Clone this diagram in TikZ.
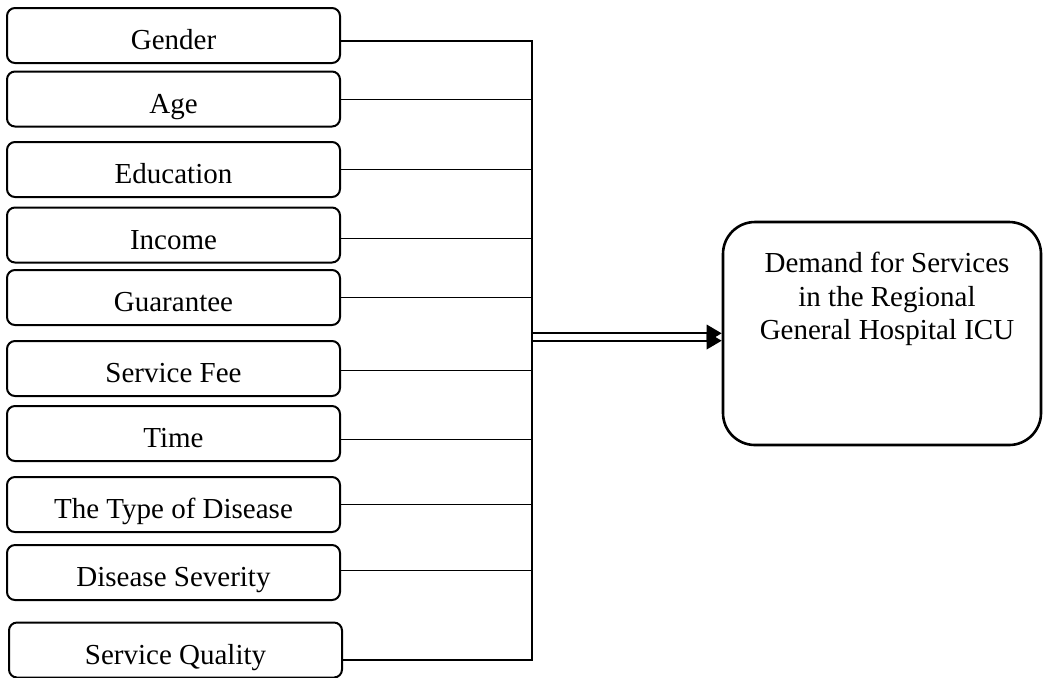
\documentclass[tikz,border=0pt]{standalone}
\usepackage{fontspec}
\setmainfont{Liberation Serif}
\usetikzlibrary{arrows.meta,calc}
\tikzset{
  factor/.style={draw, line width=1pt, rounded corners=4pt, minimum width=166.5pt,
    minimum height=27.5pt, inner sep=0pt, font=\fontsize{14.5}{16.7}\selectfont,
    text height=15.5pt, text depth=1.2pt},
  target/.style={draw, line width=1.3pt, rounded corners=16pt, minimum width=159pt,
    minimum height=111.5pt, inner sep=0pt},
  targettext/.style={inner sep=0pt, align=center, anchor=north,
    font=\fontsize{14.5}{16.7}\selectfont},
  busline/.style={line width=1.1pt},
  feedline/.style={line width=0.5pt},
  flowarrow/.style={line width=1.1pt, -{Triangle[length=7.5pt,width=8.5pt]}},
}
\begin{document}
\begin{tikzpicture}[x=0.5pt,y=-0.5pt]
\useasboundingbox (0,0) rectangle (1043,677);
% factor boxes
\node[factor] (gender)    at (173.5,35.5)  {Gender};
\node[factor] (age)       at (173.5,99)    {Age};
\node[factor] (education) at (173.5,169.5) {Education};
\node[factor] (income)    at (173.5,235)   {Income};
\node[factor] (guarantee) at (173.5,297.5) {Guarantee};
\node[factor] (fee)       at (173.5,368.5) {Service Fee};
\node[factor] (time)      at (173.5,433.5) {Time};
\node[factor] (type)      at (173.5,504.5) {The Type of Disease};
\node[factor] (severity)  at (173.5,572.5) {Disease Severity};
\node[factor] (quality)   at (175.5,650)   {Service Quality};
% target box
\node[target] (dem) at (882,333.5) {};
\node[targettext] (demtext) at (887,252) {Demand for Services\\in the Regional\\General Hospital ICU};
% bus
\coordinate (bt) at (532,41);
\coordinate (bb) at (532,660);
\coordinate (am) at (532,337);
\draw[busline] ([yshift=-2.75pt]gender.east) -- (bt) -- (bb) -- ([yshift=-5pt]quality.east);
\draw[feedline] (age.east) -- (age.east -| bt);
\draw[feedline] (education.east) -- (education.east -| bt);
\draw[feedline] ([yshift=-1.5pt]income.east) -- ($(income.east -| bt)+(0,-1.5pt)$);
\draw[feedline] (guarantee.east) -- (guarantee.east -| bt);
\draw[feedline] ([yshift=-0.75pt]fee.east) -- ($(fee.east -| bt)+(0,-0.75pt)$);
\draw[feedline] ([yshift=-2.75pt]time.east) -- ($(time.east -| bt)+(0,-2.75pt)$);
\draw[feedline] (type.east) -- (type.east -| bt);
\draw[feedline] ([yshift=1.25pt]severity.east) -- ($(severity.east -| bt)+(0,1.25pt)$);
% double arrow
\draw[flowarrow] ($(am)+(0,1.85pt)$) -- ($(am -| dem.west)+(0,1.85pt)$);
\draw[flowarrow] ($(am)+(0,-1.85pt)$) -- ($(am -| dem.west)+(0,-1.85pt)$);
\end{tikzpicture}
\end{document}
